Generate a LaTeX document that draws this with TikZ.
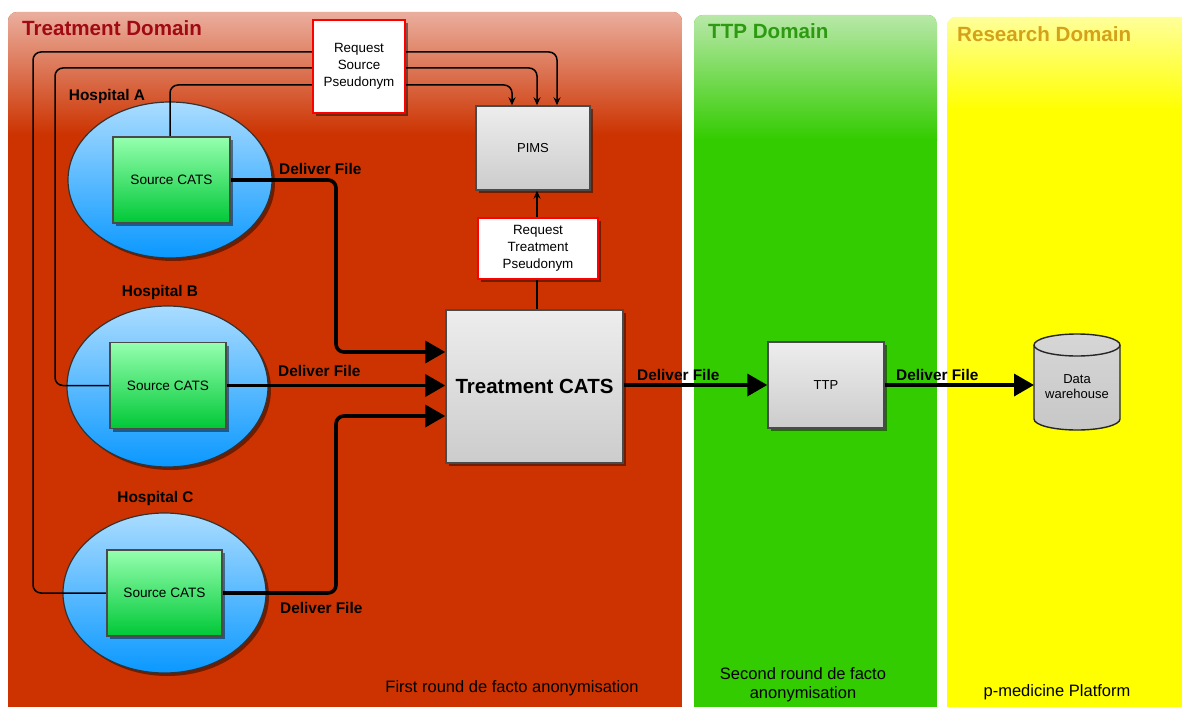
\documentclass[tikz,border=0pt]{standalone}
\usepackage{fontspec}
\setmainfont{Liberation Sans}
\usetikzlibrary{arrows.meta,shadows,calc,shapes.geometric}
\pgfdeclarelayer{panel}
\pgfdeclarelayer{ell}
\pgfdeclarelayer{front}
\pgfsetlayers{panel,ell,main,front}

\definecolor{treatred}{HTML}{CC3300}
\definecolor{treattop}{HTML}{EAAE9E}
\definecolor{treattitle}{HTML}{A00A14}
\definecolor{ttpgreen}{HTML}{33CC00}
\definecolor{ttptop}{HTML}{B8E8A8}
\definecolor{ttptitle}{HTML}{2E9A12}
\definecolor{resyellow}{HTML}{FFFF00}
\definecolor{restop}{HTML}{FFFF9A}
\definecolor{restitle}{HTML}{D4A21A}
\definecolor{boxedge}{HTML}{4A4A4A}

\newcommand{\fs}[1]{\fontsize{#1}{1.15\dimexpr #1pt\relax}\selectfont}
\newcommand{\fsw}[1]{\fontsize{#1}{1.28\dimexpr #1pt\relax}\selectfont}

\tikzset{
  x=1pt, y=-1pt,
  shadowed/.style={drop shadow={shadow xshift=3pt, shadow yshift=-3pt, opacity=0.45, fill=black}},
  graybox/.style={rectangle, shadowed, top color=white!93!black, bottom color=white!80!black,
    draw=boxedge, line width=1.4pt, inner sep=2pt, font=\fs{13}},
  srcbox/.style={rectangle, shadowed, top color=green!35!white!90!cyan, bottom color={rgb,255:red,0;green,200;blue,55},
    draw=boxedge, line width=1.4pt, font=\fs{13.6}, minimum width=116pt, minimum height=86pt},
  hospital/.style={ellipse, shadowed, top color={rgb,255:red,170;green,220;blue,255},
    bottom color={rgb,255:red,10;green,152;blue,255}, draw=black!80, line width=1.2pt},
  reqbox/.style={rectangle, shadowed, fill=white, draw=red, line width=1.8pt,
    align=center, font=\fsw{13.4}, inner sep=2pt},
  lbl/.style={font=\bfseries\fs{15.4}, inner sep=0pt},
  title/.style={font=\bfseries\fs{20.6}, inner sep=0pt, anchor=west},
  note/.style={font=\fs{16.5}, inner sep=0pt, align=center},
  request/.style={line width=1.5pt, rounded corners=8pt, -{Stealth[length=8pt,width=7pt]}},
  deliver/.style={line width=3.6pt, rounded corners=8pt, -{Triangle[length=20pt,width=22pt]}},
}

\begin{document}
\begin{tikzpicture}
\useasboundingbox (0,0) rectangle (1182,706);

% ---- domain panels ----
\begin{pgfonlayer}{panel}
\fill[white] (0,0) rectangle (1182,706);
\begin{scope}
  \clip (0,0) rectangle (1182,706);
  % treatment domain
  \begin{scope}
    \clip[rounded corners=9pt] (8,12) rectangle (682,730);
    \fill[treatred] (8,12) rectangle (682,730);
    \shade[top color=treattop, bottom color=treatred] (8,12) rectangle (682,135);
  \end{scope}
  % TTP domain
  \begin{scope}
    \clip[rounded corners=9pt] (694,15) rectangle (937,730);
    \fill[ttpgreen] (694,15) rectangle (937,730);
    \shade[top color=ttptop, bottom color=ttpgreen] (694,15) rectangle (937,140);
  \end{scope}
  % research domain
  \begin{scope}
    \clip[rounded corners=9pt] (947,17) rectangle (1200,730);
    \fill[resyellow] (947,17) rectangle (1200,730);
    \shade[top color=restop, bottom color=resyellow] (947,17) rectangle (1200,110);
  \end{scope}
\end{scope}
\node[title, text=treattitle] (t1) at (22,28) {Treatment Domain};
\node[title, text=ttptitle] (t2) at (708,31) {TTP Domain};
\node[title, text=restitle] (t3) at (957,34) {Research Domain};
\end{pgfonlayer}

% ---- hospitals ----
\begin{pgfonlayer}{ell}
\node[hospital, minimum width=204pt, minimum height=156pt] (hA) at (170,180) {};
\node[hospital, minimum width=201pt, minimum height=161pt] (hB) at (167.5,386.5) {};
\node[hospital, minimum width=203pt, minimum height=160pt] (hC) at (164.5,593) {};
\end{pgfonlayer}

\node[lbl] (lA) at (107,97) {Hospital A};
\node[lbl] (lB) at (160,293) {Hospital B};
\node[lbl] (lC) at (155.5,499) {Hospital C};

% ---- boxes ----
\begin{pgfonlayer}{front}
\node[srcbox, minimum width=117pt] (sA) at (171.5,180) {Source CATS};
\node[srcbox] (sB) at (168,385.5) {Source CATS};
\node[srcbox, minimum width=115pt] (sC) at (164.5,593) {Source CATS};

\node[graybox, minimum width=114pt, minimum height=84pt] (pims) at (533,148) {PIMS};
\node[graybox, minimum width=177pt, minimum height=153pt, font=\bfseries\fs{20.5}] (tc) at (534.5,386.5) {Treatment CATS};
\node[graybox, minimum width=116pt, minimum height=86pt] (ttp) at (826,385) {TTP};

\node[reqbox, minimum width=92pt, minimum height=93pt] (rsp) at (359,66.5) {Request\\Source\\Pseudonym};
\node[reqbox, minimum width=120pt, minimum height=61pt] (rtp) at (538,248.5) {Request\\Treatment\\Pseudonym};

% data warehouse cylinder (body, then the front rim of the lid)
\shade[top color=white!84!black, bottom color=white!78!black, draw=black!85, line width=1.4pt]
   (1034,345) -- (1034,419)
   arc[start angle=180, end angle=0, x radius=43, y radius=11]
   -- (1120,345)
   arc[start angle=0, end angle=-180, x radius=43, y radius=11] -- cycle;
\draw[black!85, line width=1.4pt] (1034,345) arc[start angle=180, end angle=0, x radius=43, y radius=11];
\node[align=center, font=\fs{13}, inner sep=0pt] (dw) at (1077,387) {Data\\warehouse};
\coordinate (dwin) at (1034,385);
\end{pgfonlayer}

% ---- pseudonym requests ----
\draw[request] (sC.west) -- (33,593) -- (33,52) -- (557,52) -- (pims.north -| 557,0);
\draw[request] (sB.west) -- (55,385.5) -- (55,68) -- (537,68) -- (pims.north -| 537,0);
\draw[request] (sA.north -| 170,0) -- (170,85) -- (512,85) -- (pims.north -| 512,0);
\draw[request] (tc.north -| 537,0) -- (pims.south -| 537,0);

% ---- file deliveries ----
\draw[deliver] (sA.east) -- (336,180) -- (336,352) -- (tc.west |- 0,352);
\draw[deliver] (sB.east) -- (tc.west |- sB.east);
\draw[deliver] (sC.east) -- (336,593) -- (336,416) -- (tc.west |- 0,416);
\draw[deliver] (tc.east |- ttp.west) -- (ttp.west);
\draw[deliver] (ttp.east) -- (dwin);

\node[lbl, anchor=west] (dA) at (279,169) {Deliver File};
\node[lbl, anchor=west] (dB) at (278,371) {Deliver File};
\node[lbl, anchor=west] (dC) at (280,608) {Deliver File};
\node[lbl, anchor=west] (dT) at (637,375) {Deliver File};
\node[lbl, anchor=west] (dR) at (896,375) {Deliver File};

% ---- domain notes ----
\node[note] (n1) at (512,688) {First round de facto anonymisation};
\node[note] (n2) at (803,685) {Second round de facto\\anonymisation};
\node[note] (n3) at (1057,692) {p-medicine Platform};
\end{tikzpicture}
\end{document}
